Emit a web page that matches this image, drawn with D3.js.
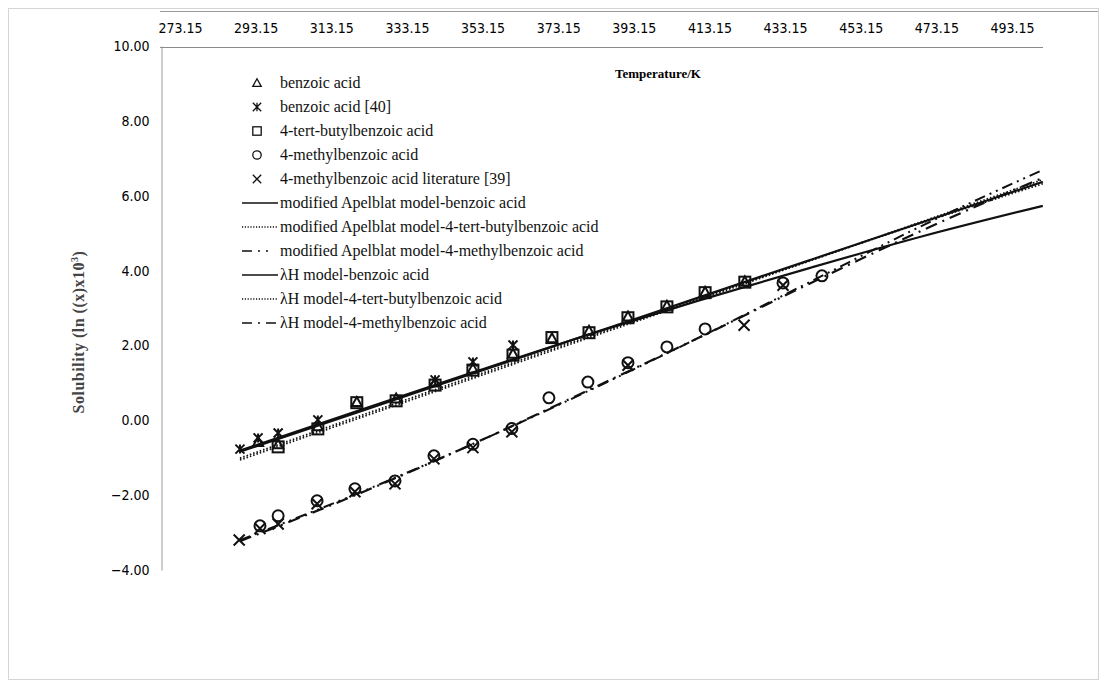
<!DOCTYPE html>
<html>
<head>
<meta charset="utf-8">
<script src="https://cdn.jsdelivr.net/npm/d3@7"></script>
<style>
  body { margin: 0; background: #fff; }
  svg { display: block; }
  .tick text { font-family: "Liberation Sans Narrow", "DejaVu Sans Condensed", sans-serif; font-size: 14px; fill: #000; }
  .legend text { font-family: "Liberation Serif", serif; font-size: 16px; fill: #111; }
</style>
</head>
<body>
<div id="chart"></div>
<script>
var svgWidth = 1107;
var svgHeight = 687;

// tick labels
var xTicks = [273.15, 293.15, 313.15, 333.15, 353.15, 373.15, 393.15, 413.15, 433.15, 453.15, 473.15, 493.15];
var yTicks = [-4, -2, 0, 2, 4, 6, 8, 10];

// experimental points (temperature K, value)
var benzoicT = [293.8, 299.1, 309.6, 319.9, 330.3, 340.6, 350.6, 361.2, 371.5, 381.3, 391.6, 401.9, 412.0, 422.5];
var benzoicY = [-0.58, -0.64, -0.16, 0.49, 0.58, 1.01, 1.38, 1.78, 2.19, 2.39, 2.77, 3.06, 3.43, 3.71];

var benzoicLitT = [289.0, 293.8, 299.1, 309.6, 340.6, 350.6, 361.2];
var benzoicLitY = [-0.77, -0.47, -0.34, 0.01, 1.08, 1.56, 2.01];

var butylT = [299.1, 309.6, 319.9, 330.3, 340.6, 350.6, 361.2, 371.5, 381.3, 391.6, 401.9, 412.0, 422.5];
var butylY = [-0.71, -0.23, 0.47, 0.52, 0.94, 1.34, 1.74, 2.21, 2.34, 2.74, 3.03, 3.41, 3.69];

var methylT = [294.3, 299.1, 309.4, 319.4, 330.0, 340.3, 350.6, 360.9, 370.7, 381.0, 391.6, 401.9, 412.0, 432.6, 442.9];
var methylY = [-2.82, -2.55, -2.15, -1.83, -1.62, -0.95, -0.64, -0.22, 0.60, 1.02, 1.54, 1.96, 2.44, 3.67, 3.86];

var methylLitT = [288.8, 294.3, 299.1, 309.4, 319.4, 330.0, 340.3, 350.6, 360.9, 391.6, 422.3, 432.6];
var methylLitY = [-3.20, -2.89, -2.77, -2.23, -1.91, -1.70, -1.03, -0.73, -0.31, 1.47, 2.54, 3.61];

// model curves (temperature K, value)
var modelT = [289.0, 320, 350, 380, 410, 440, 470, 501.3];
var apelBenzoic = [-0.81, 0.25, 1.26, 2.25, 3.19, 4.08, 4.93, 5.73];
var apelButyl = [-1.06, 0.04, 1.10, 2.16, 3.21, 4.27, 5.33, 6.43];
var apelMethyl = [-3.20, -1.96, -0.66, 0.73, 2.19, 3.71, 5.23, 6.69];
var lhBenzoic = [-0.84, 0.21, 1.23, 2.25, 3.27, 4.29, 5.31, 6.37];
var lhButyl = [-1.01, 0.09, 1.15, 2.20, 3.24, 4.28, 5.30, 6.32];
var lhMethyl = [-3.23, -1.98, -0.66, 0.75, 2.19, 3.67, 5.10, 6.48];

var svg = d3.select("#chart").append("svg")
  .attr("width", svgWidth)
  .attr("height", svgHeight);

// chart frame
svg.append("rect")
  .attr("x", 8.5).attr("y", 8.5)
  .attr("width", 1090).attr("height", 671)
  .attr("fill", "none").attr("stroke", "#d4d4d4");
svg.append("line")
  .attr("x1", 160).attr("x2", 1098).attr("y1", 11.5).attr("y2", 11.5)
  .attr("stroke", "#9a9a9a");
svg.append("line")
  .attr("x1", 160).attr("x2", 1043).attr("y1", 47.5).attr("y2", 47.5)
  .attr("stroke", "#8a8a8a");

var x = d3.scaleLinear().domain([273.15, 493.15]).range([180, 1012]);
var y = d3.scaleLinear().domain([-4, 10]).range([570, 46]);

// top axis labels
var xAxis = svg.append("g")
  .attr("transform", "translate(0,33)")
  .call(d3.axisTop(x).tickValues(xTicks).tickFormat(d3.format(".2f")).tickSize(0).tickPadding(0));
xAxis.select(".domain").remove();

// left axis
var yAxis = svg.append("g")
  .attr("transform", "translate(161.5,0)")
  .call(d3.axisLeft(y).tickValues(yTicks).tickFormat(d3.format(".2f")).tickSize(0).tickPadding(12));
yAxis.select(".domain").attr("stroke", "#999");

// axis titles
svg.append("text")
  .attr("x", 615).attr("y", 78)
  .style("font-family", "Liberation Serif, serif")
  .style("font-size", "13px")
  .style("font-weight", "bold")
  .text("Temperature/K");

var yTitle = svg.append("text")
  .attr("transform", "translate(84,332) rotate(-90)")
  .attr("text-anchor", "middle")
  .style("font-family", "Liberation Serif, serif")
  .style("font-size", "16px")
  .style("font-weight", "bold")
  .style("letter-spacing", "0.5px")
  .style("fill", "#444");
yTitle.append("tspan").text("Solubility  (ln ((x)x10");
yTitle.append("tspan").attr("dy", -6).style("font-size", "10px").text("3");
yTitle.append("tspan").attr("dy", 6).text(")");

// line styles
var styles = {
  apelBenzoic: { width: 2.2, dash: null },
  apelButyl: { width: 1.8, dash: "1.5,2" },
  apelMethyl: { width: 2, dash: "11,5,2,5,2,5" },
  lhBenzoic: { width: 2.2, dash: null },
  lhButyl: { width: 1.8, dash: "1.5,2" },
  lhMethyl: { width: 2.2, dash: "12,6,2,6" }
};

var line = d3.line()
  .x(d => x(d[0]))
  .y(d => y(d[1]))
  .curve(d3.curveMonotoneX);

var models = [
  ["apelBenzoic", apelBenzoic],
  ["apelButyl", apelButyl],
  ["apelMethyl", apelMethyl],
  ["lhBenzoic", lhBenzoic],
  ["lhButyl", lhButyl],
  ["lhMethyl", lhMethyl]
];

models.forEach(function(m) {
  var st = styles[m[0]];
  svg.append("path")
    .datum(modelT.map((t, i) => [t, m[1][i]]))
    .attr("d", line)
    .attr("fill", "none")
    .attr("stroke", "#111")
    .attr("stroke-width", st.width)
    .attr("stroke-dasharray", st.dash);
});

// marker shapes
function marker(g, kind, r, sw) {
  if (kind === "triangle") {
    g.append("path").attr("d", `M0,${-r}L${r},${r * 0.8}L${-r},${r * 0.8}Z`)
      .attr("fill", "none").attr("stroke", "#111").attr("stroke-width", sw);
  } else if (kind === "asterisk") {
    g.append("path").attr("d", `M${-r},${-r}L${r},${r}M${-r},${r}L${r},${-r}M0,${-r}L0,${r}`)
      .attr("stroke", "#111").attr("stroke-width", sw);
  } else if (kind === "square") {
    g.append("rect").attr("x", -r).attr("y", -r).attr("width", 2 * r).attr("height", 2 * r)
      .attr("fill", "none").attr("stroke", "#111").attr("stroke-width", sw);
  } else if (kind === "circle") {
    g.append("circle").attr("r", r)
      .attr("fill", "none").attr("stroke", "#111").attr("stroke-width", sw);
  } else if (kind === "cross") {
    g.append("path").attr("d", `M${-r},${-r}L${r},${r}M${-r},${r}L${r},${-r}`)
      .attr("stroke", "#111").attr("stroke-width", sw);
  }
}

var pointSets = [
  ["square", butylT, butylY, 5.5],
  ["triangle", benzoicT, benzoicY, 5],
  ["asterisk", benzoicLitT, benzoicLitY, 4.5],
  ["circle", methylT, methylY, 5.5],
  ["cross", methylLitT, methylLitY, 5.5]
];

pointSets.forEach(function(p) {
  p[1].forEach(function(t, i) {
    var g = svg.append("g").attr("transform", `translate(${x(t)},${y(p[2][i])})`);
    marker(g, p[0], p[3], 2);
  });
});

// legend
var legendItems = [
  { kind: "triangle", label: "benzoic acid" },
  { kind: "asterisk", label: "benzoic acid [40]" },
  { kind: "square", label: "4-tert-butylbenzoic acid" },
  { kind: "circle", label: "4-methylbenzoic acid" },
  { kind: "cross", label: "4-methylbenzoic acid literature [39]" },
  { line: "apelBenzoic", label: "modified Apelblat model-benzoic acid" },
  { line: "apelButyl", label: "modified Apelblat model-4-tert-butylbenzoic acid" },
  { line: "apelMethyl", label: "modified Apelblat model-4-methylbenzoic acid" },
  { line: "lhBenzoic", label: "\u03bbH model-benzoic  acid" },
  { line: "lhButyl", label: "\u03bbH model-4-tert-butylbenzoic  acid" },
  { line: "lhMethyl", label: "\u03bbH model-4-methylbenzoic  acid" }
];

var legendDash = {
  apelButyl: "1.2,1.6",
  lhButyl: "1.2,1.6",
  apelMethyl: "10,6,2,6,2,20",
  lhMethyl: "10,6,2,6"
};

var legend = svg.append("g").attr("class", "legend");
legendItems.forEach(function(d, i) {
  var row = legend.append("g").attr("transform", `translate(0,${83 + i * 24})`);
  if (d.kind) {
    marker(row.append("g").attr("transform", "translate(257,0)"), d.kind, 4.2, 1.3);
  } else {
    row.append("line").attr("x1", 242).attr("x2", 278).attr("y1", 0).attr("y2", 0)
      .attr("stroke", "#111").attr("stroke-width", 1.6)
      .attr("stroke-dasharray", legendDash[d.line] || null);
  }
  row.append("text").attr("x", 280).attr("y", 5).text(d.label);
});
</script>
</body>
</html>
